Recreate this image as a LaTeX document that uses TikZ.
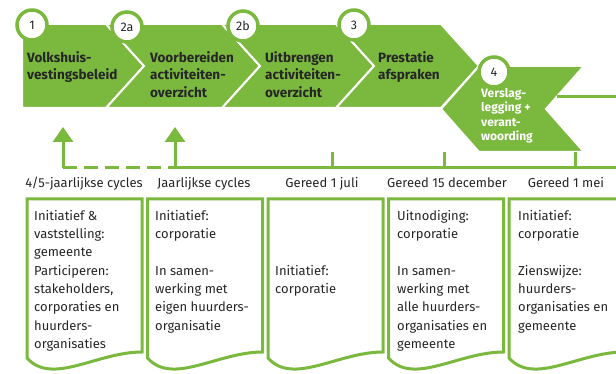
\documentclass[tikz,border=0pt]{standalone}
\usepackage{fontspec}
\setmainfont{Fira Sans}
\usetikzlibrary{arrows.meta}
\definecolor{rgreen}{RGB}{122,184,62}
\definecolor{rtext}{RGB}{38,38,38}
\begin{document}
\begin{tikzpicture}[x=1pt,y=-1pt]
        \clip (0,0) rectangle (616,374);

        % chevrons
        \begin{scope}[every path/.style={fill=rgreen, draw=white, line width=2pt}]
            \path (22,24) -- (106,24) -- (144,66) -- (106,108) -- (22,108) -- cycle;
            \path (106,24) -- (222,24) -- (260,66) -- (222,108) -- (106,108) -- (144,66) -- cycle;
            \path (222,24) -- (336,24) -- (374,66) -- (336,108) -- (222,108) -- (260,66) -- cycle;
            \path (336,24) -- (441,24) -- (479,66) -- (441,108) -- (336,108) -- (374,66) -- cycle;
            \path (479,66) -- (584,66) -- (546,109) -- (584,152) -- (479,152) -- (441,109) -- cycle;
        \end{scope}

        % first baseline = y + 0.7 baselineskip
        \begin{scope}[every node/.style={anchor=north west, align=left, inner sep=0pt,
            font=\bfseries\fontsize{13.5}{17.5}\selectfont, text=rtext}]
            \node (st1) at (27,49.75) {\strut Volkshuis-\\vestingsbeleid};
            \node (st2a) at (150,49.75) {\strut Voorbereiden\\activiteiten-\\overzicht};
            \node (st2b) at (265,49.75) {\strut Uitbrengen\\activiteiten-\\overzicht};
            \node (st3) at (378,49.75) {\strut Prestatie\\afspraken};
            \node[text=white, font=\bfseries\fontsize{12}{14.5}\selectfont] (st4) at (481,86.85)
                {\strut Verslag-\\legging +\\verant-\\woording};
        \end{scope}

        \begin{scope}[every node/.style={circle, draw=rgreen, fill=white, line width=3.5pt,
            minimum size=30pt, inner sep=0pt, text=rtext, font=\fontsize{12.5}{14}\selectfont}]
            \node (n1) at (32,25) {1};
            \node (n2a) at (127,27) {2a};
            \node (n2b) at (243,26) {2b};
            \node (n3) at (354,25) {3};
            \node (n4) at (494,72) {4};
        \end{scope}

        % timeline
        \coordinate (t0) at (63,168);
        \coordinate (t1) at (175,168);
        \coordinate (tend) at (616,168);
        \coordinate (a0) at (63,127);
        \coordinate (a1) at (175,127);
        \coordinate (k1) at (332,168);
        \coordinate (k1up) at (332,152);
        \coordinate (k2) at (444,168);
        \coordinate (k2up) at (444,152);
        \coordinate (k3) at (575,168);
        \coordinate (k3up) at (575,152);
        \coordinate (c4) at (557,97);
        \coordinate (c4end) at (616,97);

        \begin{scope}[every path/.style={draw=rgreen, line width=3pt}]
            \path (t1) -- (tend);
            \path [dash pattern=on 14pt off 7pt] (t0) -- (t1);
            \path [-{Triangle[width=20pt,length=15pt]}, fill=rgreen] (t0) -- (a0);
            \path [-{Triangle[width=20pt,length=15pt]}, fill=rgreen] (t1) -- (a1);
            \path [-] (k1) -- (k1up);
            \path [-] (k2) -- (k2up);
            \path [-] (k3) -- (k3up);
            \path [-] (c4) -- (c4end);
        \end{scope}

        \begin{scope}[every node/.style={anchor=base, inner sep=0pt, text=rtext,
            font=\fontsize{13}{16}\selectfont}]
            \node (l1) at (84,188) {4/5-jaarlijkse cycles};
            \node (l2) at (204,188) {Jaarlijkse cycles};
            \node (l3) at (322,188) {Gereed 1 juli};
            \node (l4) at (447,188) {Gereed 15 december};
            \node (l5) at (566,188) {Gereed 1 mei};
        \end{scope}

        % document boxes
        \begin{scope}[every path/.style={draw=rgreen, line width=3pt}]
            \path (27,199) -- (27,358) .. controls (52,386) and (97,352) .. (142,352) -- (142,199) -- cycle;
            \path (147.5,199) -- (147.5,358) .. controls (172.5,386) and (217.5,352) .. (262.5,352) -- (262.5,199) -- cycle;
            \path (268,199) -- (268,358) .. controls (293,386) and (338,352) .. (383,352) -- (383,199) -- cycle;
            \path (388.5,199) -- (388.5,358) .. controls (413.5,386) and (458.5,352) .. (503.5,352) -- (503.5,199) -- cycle;
            \path (509,199) -- (509,358) .. controls (534,386) and (579,352) .. (624,352) -- (624,199) -- cycle;
        \end{scope}

        \begin{scope}[every node/.style={anchor=north west, align=left, inner sep=0pt,
            text=rtext, font=\fontsize{13}{18.3}\selectfont}]
            \node (d1) at (34,207.2) {\strut Initiatief \&\\vaststelling:\\gemeente\\Participeren:\\stakeholders,\\corporaties en\\huurders-\\organisaties};
            \node (d2) at (155,207.2) {\strut Initiatief:\\corporatie\\[18.3pt]In samen-\\werking met\\eigen huurders-\\organisatie};
            \node (d3) at (275,262.2) {\strut Initiatief:\\corporatie};
            \node (d4) at (397,207.2) {\strut Uitnodiging:\\corporatie\\[18.3pt]In samen-\\werking met\\alle huurders-\\organisaties en\\gemeente};
            \node (d5) at (518,207.2) {\strut Initiatief:\\corporatie\\[18.3pt]Zienswijze:\\huurders-\\organisaties en\\gemeente};
        \end{scope}
\end{tikzpicture}
\end{document}
